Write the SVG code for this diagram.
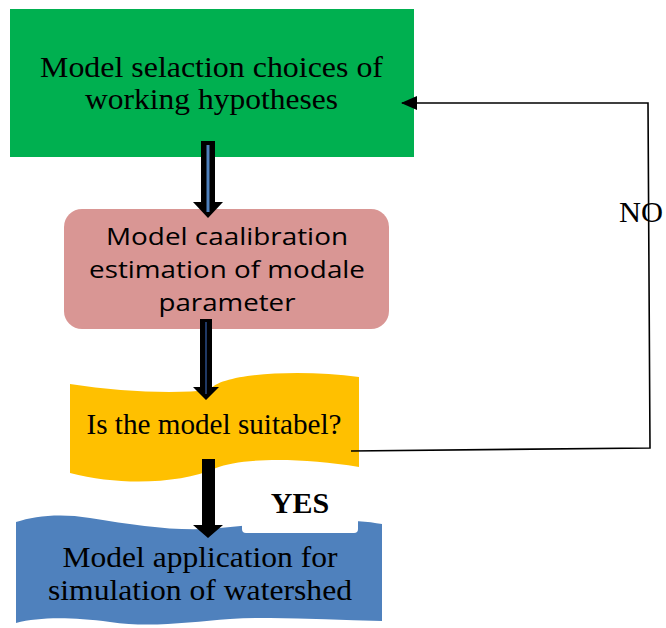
<svg xmlns="http://www.w3.org/2000/svg" width="666" height="628" viewBox="0 0 666 628">
<style>
.serif{font-family:"Liberation Serif","Times New Roman",serif;fill:#000}
.sans{font-family:"Open Sans","Noto Sans","Liberation Sans",sans-serif;fill:#000}
.conn{fill:none;stroke:#000;stroke-width:1.6}
</style>
<defs>
<marker id="ah" markerWidth="16" markerHeight="14" refX="15" refY="7" orient="auto" markerUnits="userSpaceOnUse">
<path d="M0,0 L16,7 L0,14 Z" fill="#000"/>
</marker>
</defs>
<rect width="666" height="628" fill="#fff"/>

<g id="node-selection">
<rect x="10" y="9" width="404" height="148" fill="#00B050"/>
<text class="serif" font-size="30" text-anchor="middle" x="211.5" y="77" textLength="343" lengthAdjust="spacingAndGlyphs">Model selaction choices of</text>
<text class="serif" font-size="30" text-anchor="middle" x="211.5" y="109" textLength="253" lengthAdjust="spacingAndGlyphs">working hypotheses</text>
</g>

<g id="node-calibration">
<rect x="64" y="209" width="325" height="120" rx="18" ry="18" fill="#D99694"/>
<text class="sans" font-size="24" text-anchor="middle" x="227" y="245" textLength="242" lengthAdjust="spacingAndGlyphs">Model caalibration</text>
<text class="sans" font-size="24" text-anchor="middle" x="227" y="278" textLength="276" lengthAdjust="spacingAndGlyphs">estimation of modale</text>
<text class="sans" font-size="24" text-anchor="middle" x="227" y="311" textLength="137" lengthAdjust="spacingAndGlyphs">parameter</text>
</g>

<g id="node-suitable">
<path d="M70,384 C120,392 175,394 210,390 C220,373 300,369 359,377 L359,467 C300,457 240,458 216,468 C180,484 120,486 70,473 Z" fill="#FFC000"/>
<text class="serif" font-size="30" text-anchor="middle" x="214" y="434" textLength="255" lengthAdjust="spacingAndGlyphs">Is the model suitabel?</text>
</g>

<g id="node-application">
<path d="M16,522 C35,516 60,513 90,518 C140,526 180,532 220,528 C280,522 340,516 382,524 L382,628 L16,628 Z" fill="#4F81BD"/>
<text class="serif" font-size="30" text-anchor="middle" x="200" y="567" textLength="275" lengthAdjust="spacingAndGlyphs">Model application for</text>
<text class="serif" font-size="30" text-anchor="middle" x="200" y="600" textLength="304" lengthAdjust="spacingAndGlyphs">simulation of watershed</text>
<path d="M16,623 C40,617 70,617 110,622 C150,628 190,622 230,619 C280,616 330,620 382,621 L382,628 L16,628 Z" fill="#fff"/>
</g>

<g id="label-yes">
<rect x="242" y="467" width="116" height="66" rx="4" ry="4" fill="#fff"/>
<text class="serif" font-size="30" font-weight="bold" text-anchor="middle" x="300" y="513">YES</text>
</g>

<g id="connectors">
<path d="M201,141 L215,141 L215,202 L223,202 L208,218 L193,202 L201,202 Z" fill="#000"/>
<line x1="208" y1="145" x2="208" y2="212" stroke="#4F81BD" stroke-width="3"/>
<path d="M200,319 L212,319 L212,387 L219,387 L206,400 L193,387 L200,387 Z" fill="#000"/>
<line x1="206" y1="322" x2="206" y2="394" stroke="#1F3864" stroke-width="2"/>
<path d="M202,459 L215,459 L215,525 L223,525 L208,538 L193,525 L202,525 Z" fill="#000"/>
<path class="conn" d="M351,451 L650,448 L648,103 L402,103" marker-end="url(#ah)"/>
<text class="serif" font-size="30" x="619" y="222" textLength="44" lengthAdjust="spacingAndGlyphs">NO</text>
</g>
</svg>
